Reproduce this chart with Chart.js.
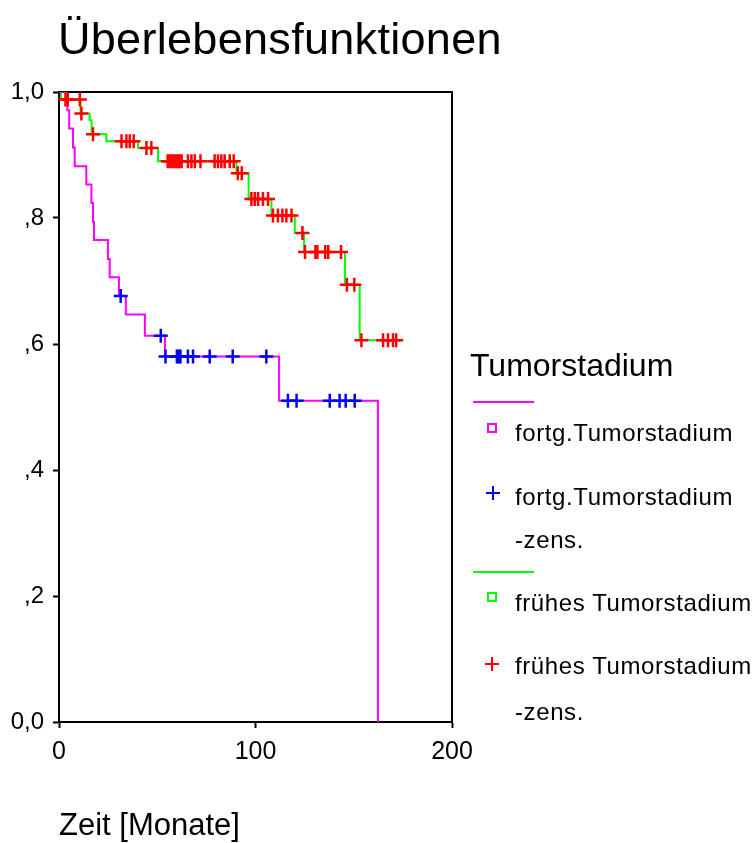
<!DOCTYPE html>
<html>
<head>
<meta charset="utf-8">
<title>Überlebensfunktionen</title>
<script src="https://cdn.jsdelivr.net/npm/chart.js@4"></script>
<style>
  body { margin: 0; background: #fff; }
  #wrap { position: relative; width: 756px; height: 843px; font-family: "Liberation Sans", Arial, sans-serif; color: #000; }
  #wrap canvas { position: absolute; left: 0; top: 0; }
  .txt { position: absolute; white-space: nowrap; line-height: 1; }
  .item { font-size: 24px; letter-spacing: 0.6px; left: 515px; }
  .swatch { position: absolute; left: 473px; width: 61px; height: 2px; }
  .box { position: absolute; width: 10px; height: 10px; box-sizing: border-box; border: 2px solid; }
  .cross { position: absolute; width: 14px; height: 14px; }
  .cross::before, .cross::after { content: ""; position: absolute; background: currentColor; }
  .cross::before { left: 0; top: 6px; width: 14px; height: 2px; }
  .cross::after { left: 6px; top: 0; width: 2px; height: 14px; }
</style>
</head>
<body>
<div id="wrap">
  <canvas id="survChart" width="756" height="843"></canvas>
  <div class="txt" style="left:58px;top:16px;font-size:45px;letter-spacing:0.3px">Überlebensfunktionen</div>
  <div id="legend"></div>
</div>
<script>
// === Daten ===
const xTicks = [0, 100, 200];
const yTickLabels = ["0,0", ",2", ",4", ",6", ",8", "1,0"];

// fortgeschrittenes Tumorstadium: Ereigniszeiten und Überlebensrate
const fortgTimes = [0, 4.2, 5.2, 7.1, 8.0, 13.9, 16.5, 17.3, 17.8, 24.9, 25.8, 30.5, 34.0, 43.7, 53.9, 112.0, 162.3];
const fortgSurv = [1.0, 0.971, 0.942, 0.912, 0.882, 0.853, 0.824, 0.794, 0.765, 0.735, 0.706, 0.676, 0.647, 0.613, 0.580, 0.510, 0.0];
const fortgCensored = [31.4, 51.8, 54.2, 60.0, 61.0, 61.8, 65.6, 68.2, 76.7, 88.4, 105.5, 116.5, 120.9, 137.8, 142.8, 145.9, 150.5];

// frühes Tumorstadium
const fruehTimes = [0, 1.0, 11.0, 15.6, 16.6, 24.1, 40.2, 50.4, 90.3, 96.5, 108.1, 120.0, 124.7, 145.5, 153.0, 171.6];
const fruehSurv = [1.0, 0.988, 0.966, 0.955, 0.933, 0.922, 0.911, 0.890, 0.871, 0.830, 0.804, 0.776, 0.746, 0.694, 0.606, 0.606];
const fruehCensored = [3.3, 4.5, 10.6, 11.4, 17.3, 31.8, 34.3, 36.0, 38.0, 44.5, 47.0,
  55.3, 56.3, 57.3, 58.3, 59.4, 60.4, 61.4, 62.4, 65.6, 67.4, 69.1, 72.0, 79.2, 80.9, 82.6, 84.3, 86.9, 88.9,
  91.0, 93.0, 97.9, 99.6, 101.3, 103.8, 106.4, 108.9, 111.4, 113.7, 115.7, 118.3, 123.9,
  125.2, 130.5, 131.5, 135.5, 137.0, 143.5, 146.5, 150.3, 153.9, 164.9, 167.4, 170.0, 171.6];

const legendTitle = "Tumorstadium";
const groupLabels = ["fortg.Tumorstadium", "frühes Tumorstadium"];
const colors = { fortg: "#ff00ff", fortgZens: "#0000ff", frueh: "#00ff00", fruehZens: "#ff0000" };

// Überlebensrate zum Zeitpunkt t (Treppenfunktion)
function survAt(times, surv, t) {
  let s = surv[0];
  times.forEach((ti, i) => { if (ti <= t) s = surv[i]; });
  return s;
}
const toPoints = (times, surv) => times.map((t, i) => ({ x: t, y: surv[i] }));
const toCensor = (cens, times, surv) => cens.map(t => ({ x: t, y: survAt(times, surv, t) }));

// === Rahmen oben/rechts ===
const framePlugin = {
  id: "frame",
  beforeDatasetsDraw(chart) {
    const { ctx, chartArea: a } = chart;
    ctx.save();
    ctx.strokeStyle = "#000";
    ctx.lineWidth = 2;
    ctx.beginPath();
    ctx.moveTo(a.left, a.top);
    ctx.lineTo(a.right, a.top);
    ctx.lineTo(a.right, a.bottom);
    ctx.stroke();
    ctx.restore();
  }
};

const font = "'Liberation Sans', Arial, sans-serif";

new Chart(document.getElementById("survChart"), {
  type: "scatter",
  data: {
    datasets: [
      { type: "scatter", label: groupLabels[0] + " -zens.", data: toCensor(fortgCensored, fortgTimes, fortgSurv),
        pointStyle: "cross", pointRadius: 7, borderWidth: 2.5, borderColor: colors.fortgZens, order: 0, clip: 10 },
      { type: "scatter", label: groupLabels[1] + " -zens.", data: toCensor(fruehCensored, fruehTimes, fruehSurv),
        pointStyle: "cross", pointRadius: 7, borderWidth: 2.5, borderColor: colors.fruehZens, order: 0, clip: 10 },
      { type: "line", label: groupLabels[0], data: toPoints(fortgTimes, fortgSurv), stepped: true,
        borderColor: colors.fortg, borderWidth: 2, pointRadius: 0, fill: false, order: 1 },
      { type: "line", label: groupLabels[1], data: toPoints(fruehTimes, fruehSurv), stepped: true,
        borderColor: colors.frueh, borderWidth: 2, pointRadius: 0, fill: false, order: 1 }
    ]
  },
  options: {
    responsive: false,
    animation: false,
    events: [],
    devicePixelRatio: 1,
    layout: { padding: { top: 92, right: 304, left: 0, bottom: 0 } },
    plugins: { legend: { display: false }, tooltip: { enabled: false }, title: { display: false } },
    scales: {
      x: {
        type: "linear", min: 0, max: 200,
        afterBuildTicks: s => { s.ticks = xTicks.map(v => ({ value: v })); },
        afterFit: s => { s.height = 121; },
        grid: { drawOnChartArea: false, drawTicks: true, tickLength: 6, tickColor: "#000", tickWidth: 2 },
        border: { color: "#000", width: 2 },
        ticks: { color: "#000", padding: 9, font: { family: font, size: 25 }, maxRotation: 0 },
        title: { display: true, text: "Zeit [Monate]", align: "start", color: "#000",
                 font: { family: font, size: 31, lineHeight: 1 }, padding: { top: 0, bottom: 1 } }
      },
      y: {
        min: 0, max: 1,
        ticks: { stepSize: 0.2, color: "#000", padding: 9, font: { family: font, size: 24 },
                 callback: (v, i) => yTickLabels[i] },
        afterFit: s => { s.width = 59; },
        grid: { drawOnChartArea: false, drawTicks: true, tickLength: 6, tickColor: "#000", tickWidth: 2 },
        border: { color: "#000", width: 2 }
      }
    }
  },
  plugins: [framePlugin]
});

// === Legende ===
function baselineTop(baseline, size) { return baseline - size * 0.8465; }
const lg = document.getElementById("legend");
lg.innerHTML = `
  <div class="txt" style="left:470px;top:${baselineTop(376, 32)}px;font-size:32px">${legendTitle}</div>
  <div class="swatch" style="top:401px;background:${colors.fortg}"></div>
  <div class="box" style="left:487px;top:423px;border-color:${colors.fortg}"></div>
  <div class="txt item" style="top:${baselineTop(441.7, 24)}px">${groupLabels[0]}</div>
  <div class="cross" style="left:486px;top:486px;color:${colors.fortgZens}"></div>
  <div class="txt item" style="top:${baselineTop(505, 24)}px">${groupLabels[0]}</div>
  <div class="txt item" style="top:${baselineTop(548.3, 24)}px">-zens.</div>
  <div class="swatch" style="top:571px;background:${colors.frueh}"></div>
  <div class="box" style="left:487px;top:592px;border-color:${colors.frueh}"></div>
  <div class="txt item" style="top:${baselineTop(611.7, 24)}px">${groupLabels[1]}</div>
  <div class="cross" style="left:485px;top:657px;color:${colors.fruehZens}"></div>
  <div class="txt item" style="top:${baselineTop(674, 24)}px">${groupLabels[1]}</div>
  <div class="txt item" style="top:${baselineTop(720, 24)}px">-zens.</div>
`;
</script>
</body>
</html>
